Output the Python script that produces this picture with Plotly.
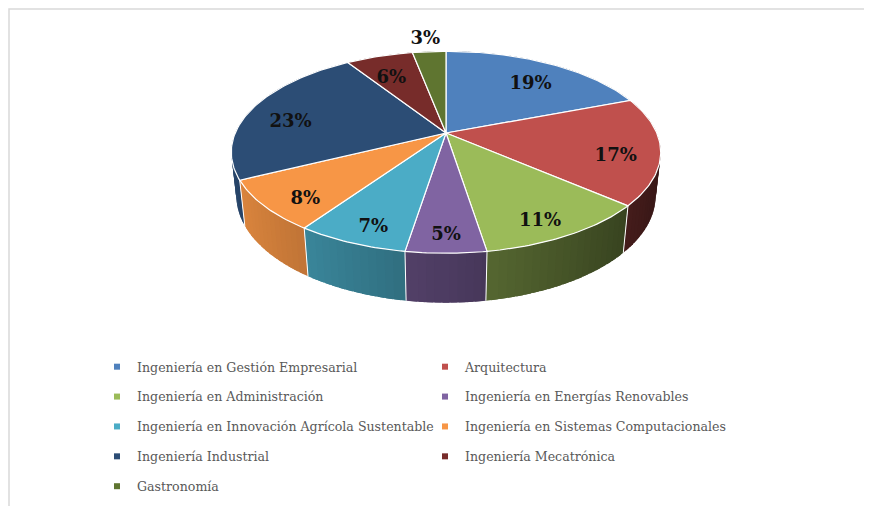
import numpy as np
import plotly.graph_objects as go

categories = [
    "Ingeniería en Gestión Empresarial",
    "Arquitectura",
    "Ingeniería en Administración",
    "Ingeniería en Energías Renovables",
    "Ingeniería en Innovación Agrícola Sustentable",
    "Ingeniería en Sistemas Computacionales",
    "Ingeniería Industrial",
    "Ingeniería Mecatrónica",
    "Gastronomía",
]
values = [19, 17, 11, 5, 7, 8, 23, 6, 3]
colors = ["#4F81BD", "#C0504D", "#9BBB59", "#8064A2", "#4BACC6",
          "#F79646", "#2C4D75", "#772C2A", "#5F7530"]

W, H = 872, 506
OFF = 8  # page offset of the figure (body margin)
# projection of the 3D pie (perspective), in page pixels
CX, CY = 446, 133
K = 980.0
D = 4.65
ALPHA = np.radians(27.5)
SINA, COSA = np.sin(ALPHA), np.cos(ALPHA)
THICK = 0.235


def proj(theta, r=1.0, Y=0.0):
    t = np.radians(theta)
    X = r * np.sin(t)
    Z = r * np.cos(t)
    w = D + Z * COSA - Y * SINA
    v = Z * SINA + Y * COSA
    return CX + K * X / w, CY - K * v / w


def shade(hexcol, f):
    h = hexcol.lstrip("#")
    r, g, b = (int(h[i:i + 2], 16) for i in (0, 2, 4))
    return "rgb(%d,%d,%d)" % (min(255, r * f), min(255, g * f), min(255, b * f))


total = float(sum(values))
bounds = np.concatenate([[0], np.cumsum(values)]) / total * 360.0

fig = go.Figure()

# side walls as thin strips, drawn back to front (slightly overlapping)
strips = []
for i in range(len(values)):
    a0, a1 = bounds[i], bounds[i + 1]
    n = max(1, int(np.ceil((a1 - a0) / 2.0)))
    edges = np.linspace(a0, a1, n + 1)
    for s in range(n):
        ta, tb = edges[s], edges[s + 1]
        mid = 0.5 * (ta + tb)
        strips.append((np.cos(np.radians(mid)), i, ta, tb, mid, s == n - 1))
strips.sort(key=lambda t: -t[0])
for _, i, ta, tb, mid, last in strips:
    ext = 0.0 if last else 0.8
    lo = ta - (0.0 if ta == bounds[i] else 0.8)
    hi = tb + ext
    arc = np.linspace(lo, hi, 4)
    xt, yt = proj(arc)
    xb, yb = proj(arc[::-1], 1.0, -THICK)
    f = 0.6 - 0.32 * np.sin(np.radians(mid))
    col = shade(colors[i], f)
    fig.add_trace(go.Scatter(
        x=np.concatenate([xt, xb]), y=np.concatenate([yt, yb]),
        fill="toself", fillcolor=col, mode="lines",
        line=dict(color=col, width=0), hoverinfo="skip",
        showlegend=False, legendgroup=categories[i]))

# white seams between wall segments
for a in bounds[:-1]:
    x0, y0 = proj(a)
    x1, y1 = proj(a, 1.0, -THICK)
    fig.add_trace(go.Scatter(x=[x0, x1], y=[y0, y1], mode="lines",
                             line=dict(color="white", width=1),
                             hoverinfo="skip", showlegend=False))

# top faces
for i in range(len(values)):
    a0, a1 = bounds[i], bounds[i + 1]
    arc = np.linspace(a0, a1, max(3, int(a1 - a0) + 2))
    xr, yr = proj(arc)
    xc, yc = proj(0.0, 0.0)
    fig.add_trace(go.Scatter(
        x=np.concatenate([[xc], xr, [xc]]), y=np.concatenate([[yc], yr, [yc]]),
        fill="toself", fillcolor=colors[i], mode="lines",
        line=dict(color="white", width=1.2),
        name=categories[i], legendgroup=categories[i],
        text="%s: %d%%" % (categories[i], values[i]), hoverinfo="text",
        showlegend=False))

# data labels
lx, ly, lt = [], [], []
for i in range(len(values)):
    mid = 0.5 * (bounds[i] + bounds[i + 1])
    frac = values[i] / total
    r = 1.3 if frac < 0.04 else 0.8
    x, y = proj(mid, r, -0.05)
    lx.append(x)
    ly.append(y)
    lt.append("%d%%" % values[i])
fig.add_trace(go.Scatter(x=lx, y=ly, text=lt, mode="text",
                         textfont=dict(family="DejaVu Serif", size=18,
                                       color="#111111", weight="bold"),
                         hoverinfo="skip", showlegend=False))

# legend entries (two columns)
for i in range(len(values)):
    fig.add_trace(go.Scatter(
        x=[None], y=[None], mode="markers",
        marker=dict(symbol="square", size=6, color=colors[i]),
        name=categories[i], legendgroup=categories[i],
        legend="legend" if i % 2 == 0 else "legend2"))

legend_common = dict(
    orientation="v", xanchor="left", yanchor="top",
    font=dict(family="DejaVu Serif", size=12.6, color="#595959"),
    bgcolor="rgba(0,0,0,0)", borderwidth=0, tracegroupgap=10.5,
    itemclick=False, itemdoubleclick=False,
)

fig.update_layout(
    width=W, height=H,
    margin=dict(l=0, r=0, t=0, b=0),
    paper_bgcolor="white", plot_bgcolor="white",
    xaxis=dict(range=[OFF, W + OFF], visible=False, fixedrange=True),
    yaxis=dict(range=[H + OFF, OFF], visible=False, fixedrange=True),
    showlegend=True,
    legend=dict(x=89 / W, y=1 - 344 / H, **legend_common),
    legend2=dict(x=417 / W, y=1 - 344 / H, **legend_common),
    shapes=[dict(type="rect", xref="paper", yref="paper",
                 x0=1 / W, y0=1 - 1 / H, x1=1.05, y1=-0.05,
                 line=dict(color="#D9D9D9", width=1.5), layer="below")],
)

fig.write_html("out.html")
